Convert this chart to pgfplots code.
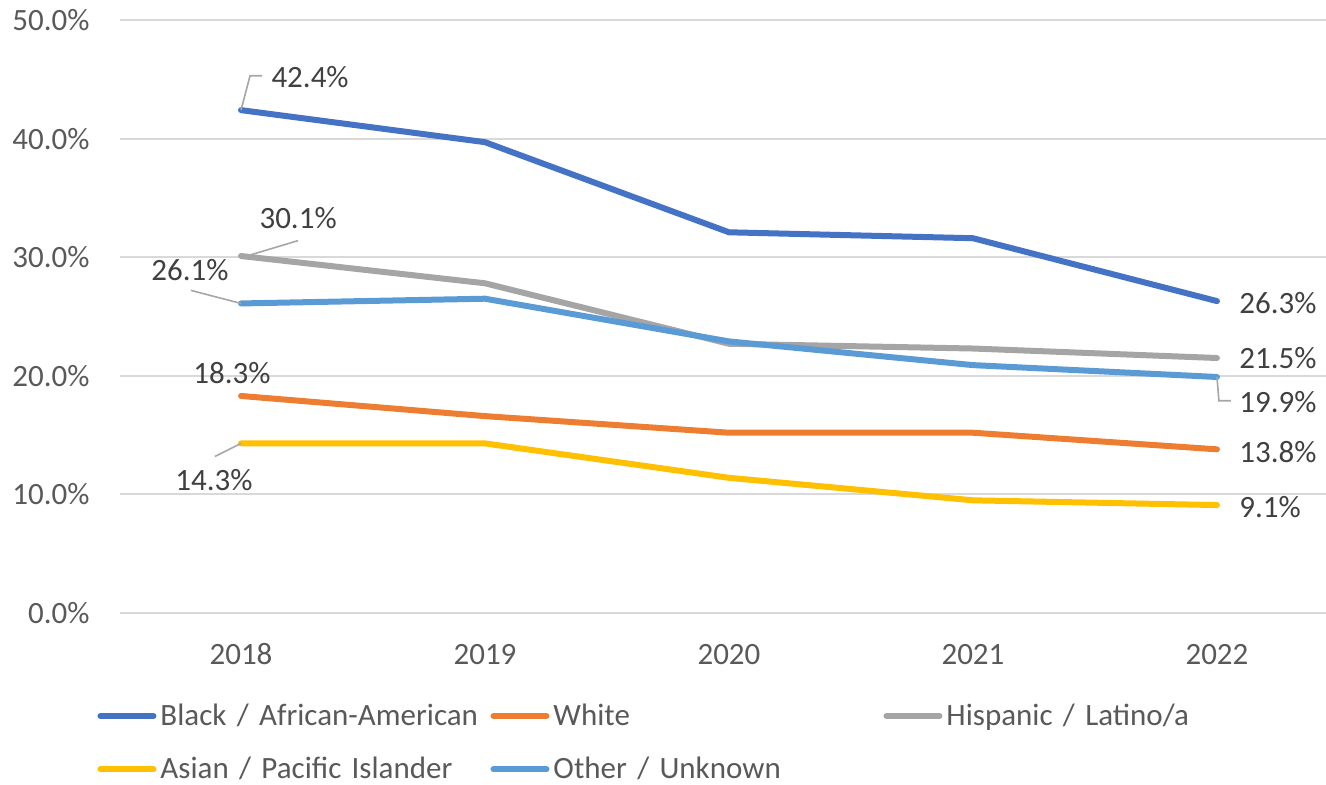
\documentclass[border=0pt]{standalone}
\usepackage{fontspec}
\setmainfont{Carlito}
\usepackage{pgfplots}
\pgfplotsset{compat=1.18}
\definecolor{cBlack}{HTML}{4472C4}
\definecolor{cWhite}{HTML}{ED7D31}
\definecolor{cHisp}{HTML}{A5A5A5}
\definecolor{cAsian}{HTML}{FFC000}
\definecolor{cOther}{HTML}{5B9BD5}
\definecolor{gridc}{HTML}{D9D9D9}
\definecolor{tickc}{HTML}{595959}
\definecolor{labc}{HTML}{404040}
\definecolor{leadc}{HTML}{A6A6A6}
\begin{document}
\begin{tikzpicture}
\useasboundingbox (0,0) rectangle (663pt,392.5pt);
\begin{axis}[
    at={(60pt,86pt)}, anchor=south west,
    width=603pt, height=296.5pt, scale only axis,
    xmin=-0.496, xmax=4.447,
    ymin=0, ymax=50,
    clip=false,
    axis line style={draw=none},
    major tick length=0pt,
    ymajorgrids,
    grid style={gridc, line width=1pt},
    xtick={0,1,2,3,4},
    xticklabels={2018,2019,2020,2021,2022},
    ytick={0,10,20,30,40,50},
    yticklabels={0.0\%,10.0\%,20.0\%,30.0\%,40.0\%,50.0\%},
    tick label style={font=\fontsize{15.5}{18}\selectfont, text=tickc},
    yticklabel style={anchor=east, inner sep=0pt, xshift=-15pt},
    xticklabel style={anchor=base, inner sep=0pt, yshift=-26pt},
    legend columns=3,
    legend cell align=left,
    legend image code/.code={\draw[#1, line width=3pt] (0pt,0pt) -- (26.5pt,0pt);},
    legend style={at={(-0.019,-0.1455)}, anchor=north west, draw=none, fill=none,
        font=\fontsize{15.5}{18}\selectfont, text=tickc, inner sep=0pt,
        row sep=10.5pt,
        /tikz/every even column/.append style={text width=163pt, xshift=-2pt}},
    every axis plot/.append style={line width=3pt, line cap=round, line join=round},
]
\addplot[cBlack] coordinates {(0,42.4) (1,39.7) (2,32.1) (3,31.6) (4,26.3)};
\addlegendentry{Black / African-American}
\addplot[cWhite] coordinates {(0,18.3) (1,16.6) (2,15.2) (3,15.2) (4,13.8)};
\addlegendentry{White}
\addplot[cHisp] coordinates {(0,30.1) (1,27.8) (2,22.7) (3,22.3) (4,21.5)};
\addlegendentry{Hispanic / Latino/a}
\addplot[cAsian] coordinates {(0,14.3) (1,14.3) (2,11.4) (3,9.5) (4,9.1)};
\addlegendentry{Asian / Pacific Islander}
\addplot[cOther] coordinates {(0,26.1) (1,26.5) (2,22.9) (3,20.9) (4,19.9)};
\addlegendentry{Other / Unknown}

% leader lines
\draw[leadc, line width=0.8pt] (axis cs:0,42.4) -- (axis cs:0.037,45.3) -- (axis cs:0.086,45.3);
\draw[leadc, line width=0.8pt] (axis cs:0.008,30.0) -- (axis cs:0.234,31.4);
\draw[leadc, line width=0.8pt] (axis cs:-0.205,27.2) -- (axis cs:0,26.1);
\draw[leadc, line width=0.8pt] (axis cs:-0.107,13.2) -- (axis cs:0,14.3);
\draw[leadc, line width=0.8pt] (axis cs:4,19.9) -- (axis cs:4.008,17.9) -- (axis cs:4.057,17.9);

% data labels
\begin{scope}[every node/.style={font=\fontsize{15.5}{18}\selectfont, text=labc, inner sep=0pt}]
\node at (axis cs:0.283,45.2) {42.4\%};
\node at (axis cs:0.234,33.3) {30.1\%};
\node at (axis cs:-0.209,28.9) {26.1\%};
\node at (axis cs:-0.037,20.2) {18.3\%};
\node at (axis cs:-0.111,11.2) {14.3\%};
\node[anchor=west] at (axis cs:4.09,26.1) {26.3\%};
\node[anchor=west] at (axis cs:4.09,21.5) {21.5\%};
\node[anchor=west] at (axis cs:4.09,17.8) {19.9\%};
\node[anchor=west] at (axis cs:4.09,13.6) {13.8\%};
\node[anchor=west] at (axis cs:4.09,8.9) {9.1\%};
\end{scope}
\end{axis}
\end{tikzpicture}
\end{document}
